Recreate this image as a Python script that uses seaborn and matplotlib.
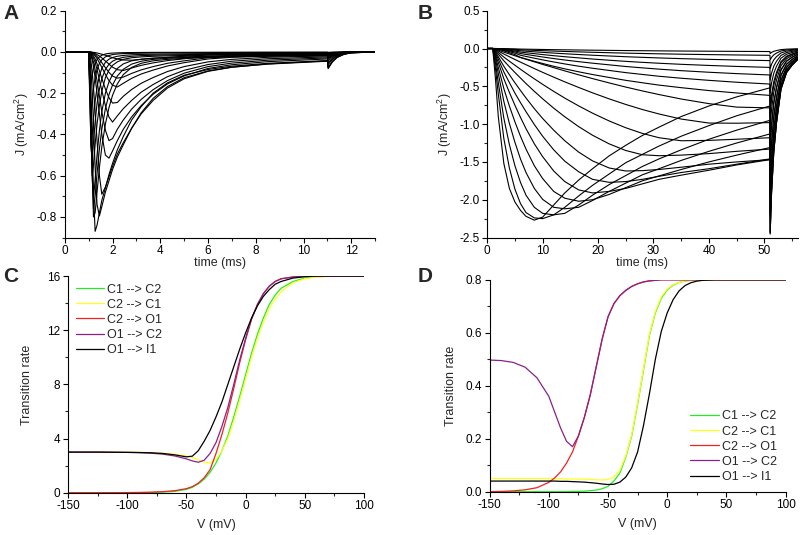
import numpy as np
import pandas as pd
import matplotlib.pyplot as plt
import seaborn as sns
from matplotlib.ticker import MultipleLocator

# ---- Panel A: current traces, short pulse (time in ms, J in mA/cm^2)
t_a = [0, 1.0, 1.05, 1.1, 1.15, 1.2, 1.27, 1.35, 1.45, 1.55, 1.7, 1.85, 2.0, 2.2, 2.45,
       2.8, 3.2, 3.7, 4.3, 5.0, 6.0, 7.0, 8.5, 11.0, 11.03, 11.2, 11.4, 11.7, 12.0, 13.0]
a1 = [0, 0, -0.06, -0.22, -0.45, -0.68, -0.87, -0.84, -0.78, -0.72, -0.66, -0.595, -0.54, -0.475, -0.41,
      -0.33, -0.265, -0.2, -0.15, -0.113, -0.085, -0.069, -0.055, -0.042, -0.076, -0.046, -0.025, -0.0105, -0.004, 0]
a2 = [0, 0, -0.024, -0.10, -0.20, -0.35, -0.56, -0.74, -0.795, -0.75, -0.68, -0.625, -0.57, -0.51, -0.45,
      -0.37, -0.295, -0.225, -0.168, -0.125, -0.092, -0.074, -0.059, -0.045, -0.081, -0.05, -0.027, -0.011, -0.0045, 0]
a3 = [0, 0, -0.01, -0.05, -0.10, -0.17, -0.29, -0.43, -0.60, -0.69, -0.655, -0.605, -0.555, -0.495, -0.44,
      -0.37, -0.30, -0.235, -0.175, -0.13, -0.094, -0.074, -0.058, -0.043, -0.077, -0.047, -0.026, -0.0108, -0.0043, 0]
a4 = [0, 0, -0.005, -0.02, -0.04, -0.07, -0.125, -0.20, -0.30, -0.40, -0.50, -0.515, -0.48, -0.43, -0.375,
      -0.315, -0.26, -0.205, -0.155, -0.116, -0.08, -0.062, -0.047, -0.034, -0.061, -0.037, -0.02, -0.0085, -0.0034, 0]
a4b = [0, 0, -0.004, -0.015, -0.028, -0.048, -0.085, -0.14, -0.215, -0.29, -0.38, -0.43, -0.42, -0.375, -0.33,
       -0.277, -0.23, -0.183, -0.139, -0.103, -0.071, -0.054, -0.04, -0.029, -0.052, -0.032, -0.017, -0.007, -0.003, 0]
a5 = [0, 0, -0.003, -0.01, -0.017, -0.029, -0.05, -0.085, -0.136, -0.187, -0.26, -0.316, -0.34, -0.31, -0.275,
      -0.235, -0.195, -0.158, -0.12, -0.089, -0.061, -0.045, -0.033, -0.024, -0.043, -0.026, -0.014, -0.006, -0.0024, 0]
a5b = [0, 0, -0.002, -0.006, -0.012, -0.019, -0.034, -0.057, -0.092, -0.128, -0.18, -0.222, -0.248, -0.245, -0.215,
       -0.182, -0.152, -0.124, -0.095, -0.071, -0.048, -0.036, -0.026, -0.019, -0.034, -0.021, -0.011, -0.005, -0.002, 0]
a6 = [0, 0, -0.001, -0.003, -0.007, -0.01, -0.019, -0.032, -0.053, -0.075, -0.109, -0.139, -0.161, -0.17, -0.152,
      -0.128, -0.107, -0.088, -0.068, -0.052, -0.034, -0.026, -0.019, -0.013, -0.023, -0.014, -0.008, -0.003, -0.001, 0]
a6b = [0, 0, 0, -0.002, -0.005, -0.007, -0.013, -0.022, -0.036, -0.052, -0.076, -0.099, -0.117, -0.127, -0.122,
       -0.104, -0.087, -0.071, -0.055, -0.043, -0.028, -0.021, -0.015, -0.010, -0.018, -0.011, -0.006, -0.0025, -0.001, 0]
a7 = [0, 0, 0, -0.001, -0.003, -0.0045, -0.008, -0.013, -0.02, -0.029, -0.044, -0.059, -0.074, -0.086, -0.09,
      -0.078, -0.065, -0.053, -0.042, -0.033, -0.022, -0.016, -0.011, -0.0074, -0.013, -0.008, -0.0045, -0.002, -0.001, 0]
a8 = [0, 0, 0, 0, -0.001, -0.002, -0.003, -0.005, -0.008, -0.011, -0.016, -0.022, -0.028, -0.034, -0.039,
      -0.04, -0.036, -0.031, -0.026, -0.021, -0.015, -0.011, -0.008, -0.005, -0.009, -0.0055, -0.003, -0.001, 0, 0]
a9 = [0, 0, -0.10, -0.30, -0.55, -0.80, -0.78, -0.68, -0.56, -0.46, -0.35, -0.27, -0.21, -0.155, -0.11,
      -0.075, -0.055, -0.043, -0.036, -0.031, -0.027, -0.024, -0.021, -0.018, -0.032, -0.02, -0.011, -0.0045, -0.002, 0]
a9b = [0, 0, -0.12, -0.33, -0.59, -0.76, -0.70, -0.59, -0.47, -0.375, -0.275, -0.207, -0.16, -0.117, -0.084,
       -0.059, -0.045, -0.036, -0.031, -0.027, -0.024, -0.021, -0.019, -0.016, -0.029, -0.018, -0.0095, -0.004, -0.0016, 0]
a10 = [0, 0, -0.14, -0.36, -0.62, -0.71, -0.62, -0.50, -0.38, -0.29, -0.20, -0.145, -0.11, -0.08, -0.058,
       -0.043, -0.035, -0.03, -0.027, -0.024, -0.021, -0.019, -0.017, -0.014, -0.025, -0.015, -0.0085, -0.0035, -0.0014, 0]
a11 = [0, 0, -0.18, -0.42, -0.60, -0.55, -0.45, -0.35, -0.26, -0.19, -0.125, -0.088, -0.065, -0.048, -0.036,
       -0.028, -0.024, -0.021, -0.019, -0.017, -0.015, -0.013, -0.012, -0.01, -0.018, -0.011, -0.006, -0.0025, -0.001, 0]
a11b = [0, 0, -0.22, -0.47, -0.52, -0.44, -0.34, -0.25, -0.18, -0.13, -0.085, -0.06, -0.045, -0.034, -0.026,
        -0.021, -0.018, -0.016, -0.0145, -0.013, -0.0115, -0.01, -0.009, -0.0075, -0.0135, -0.008, -0.0045, -0.002, -0.001, 0]
a12 = [0, 0, -0.25, -0.46, -0.40, -0.32, -0.24, -0.17, -0.115, -0.08, -0.05, -0.035, -0.027, -0.021, -0.017,
       -0.014, -0.012, -0.011, -0.01, -0.009, -0.008, -0.007, -0.006, -0.005, -0.009, -0.0055, -0.003, -0.001, 0, 0]
a13 = [0, 0, -0.18, -0.30, -0.24, -0.18, -0.125, -0.085, -0.055, -0.038, -0.024, -0.017, -0.013, -0.01, -0.008,
       -0.007, -0.006, -0.005, -0.0045, -0.004, -0.0035, -0.003, -0.0025, -0.002, -0.0036, -0.0022, -0.0012, -0.0005, 0, 0]
a13b = [0, 0, -0.11, -0.15, -0.11, -0.08, -0.055, -0.037, -0.024, -0.016, -0.01, -0.007, -0.0055, -0.0045, -0.0035,
        -0.003, -0.0025, -0.002, -0.002, -0.0018, -0.0015, -0.0013, -0.0011, -0.001, -0.0018, -0.0011, -0.0006, -0.0002, 0, 0]

# ---- Panel B: current traces, long pulse
t_b = [0, 1, 1.5, 2, 3, 4, 5, 6, 7, 8.5, 10, 12, 14, 16.5, 19, 22, 25, 28, 31, 35, 40, 45, 51,
       51.05, 51.3, 51.7, 52.2, 53, 54, 55, 56]
b1 = [0, 0, -0.41, -0.90, -1.52, -1.85, -2.03, -2.14, -2.22, -2.27, -2.23, -2.07, -1.91, -1.74, -1.59, -1.42,
      -1.28, -1.15, -1.04, -0.90, -0.76, -0.64, -0.52, -0.868, -0.677, -0.486, -0.347, -0.191, -0.113, -0.078, -0.052]
b2 = [0, 0, -0.27, -0.60, -1.19, -1.58, -1.86, -2.05, -2.17, -2.24, -2.25, -2.20, -2.10, -1.95, -1.81, -1.66,
      -1.51, -1.40, -1.29, -1.16, -1.02, -0.89, -0.76, -1.27, -0.99, -0.711, -0.508, -0.279, -0.165, -0.114, -0.076]
b3 = [0, 0, -0.195, -0.45, -0.92, -1.27, -1.55, -1.77, -1.94, -2.10, -2.18, -2.20, -2.18, -2.07, -1.94, -1.80,
      -1.68, -1.56, -1.46, -1.34, -1.20, -1.08, -0.95, -1.586, -1.237, -0.888, -0.634, -0.349, -0.206, -0.143, -0.095]
b4 = [0, 0, -0.14, -0.33, -0.70, -0.99, -1.24, -1.46, -1.64, -1.85, -1.995, -2.10, -2.12, -2.10, -2.01, -1.89,
      -1.78, -1.67, -1.59, -1.48, -1.36, -1.25, -1.13, -1.887, -1.472, -1.057, -0.755, -0.415, -0.245, -0.17, -0.113]
b5 = [0, 0, -0.106, -0.25, -0.53, -0.76, -0.97, -1.16, -1.33, -1.55, -1.72, -1.89, -1.98, -2.02, -2.0, -1.93,
      -1.84, -1.75, -1.685, -1.60, -1.50, -1.41, -1.31, -2.188, -1.706, -1.225, -0.875, -0.481, -0.284, -0.197, -0.131]
b6 = [0, 0, -0.08, -0.185, -0.40, -0.58, -0.75, -0.91, -1.06, -1.26, -1.43, -1.62, -1.76, -1.87, -1.91, -1.89,
      -1.85, -1.79, -1.73, -1.675, -1.61, -1.54, -1.47, -2.455, -1.915, -1.375, -0.982, -0.54, -0.319, -0.221, -0.147]
b7 = [0, 0, -0.06, -0.14, -0.31, -0.45, -0.59, -0.715, -0.835, -1.005, -1.16, -1.34, -1.49, -1.63, -1.73, -1.77,
      -1.76, -1.73, -1.69, -1.64, -1.59, -1.53, -1.46, -2.44, -1.90, -1.37, -0.976, -0.537, -0.317, -0.22, -0.146]
b8 = [0, 0, -0.045, -0.108, -0.235, -0.346, -0.453, -0.555, -0.654, -0.795, -0.925, -1.08, -1.22, -1.37, -1.486, -1.58,
      -1.62, -1.615, -1.60, -1.57, -1.53, -1.50, -1.47, -2.43, -1.895, -1.36, -0.972, -0.535, -0.316, -0.219, -0.146]
b9 = [0, 0, -0.031, -0.074, -0.162, -0.241, -0.317, -0.39, -0.463, -0.566, -0.665, -0.789, -0.903, -1.033, -1.147, -1.261,
      -1.349, -1.405, -1.418, -1.41, -1.39, -1.36, -1.33, -2.22, -1.73, -1.245, -0.89, -0.49, -0.29, -0.20, -0.133]
b10 = [0, 0, -0.021, -0.051, -0.113, -0.168, -0.221, -0.274, -0.326, -0.401, -0.474, -0.567, -0.656, -0.759, -0.855, -0.958,
       -1.048, -1.123, -1.18, -1.22, -1.215, -1.20, -1.18, -1.97, -1.537, -1.104, -0.789, -0.434, -0.256, -0.177, -0.118]
b11 = [0, 0, -0.014, -0.033, -0.073, -0.109, -0.145, -0.18, -0.214, -0.265, -0.315, -0.379, -0.441, -0.515, -0.586, -0.666,
       -0.74, -0.807, -0.866, -0.933, -0.986, -0.988, -0.98, -1.637, -1.277, -0.917, -0.655, -0.36, -0.213, -0.147, -0.098]
b12 = [0, 0, -0.009, -0.022, -0.048, -0.072, -0.0955, -0.119, -0.142, -0.176, -0.21, -0.253, -0.296, -0.348, -0.398, -0.455,
       -0.51, -0.561, -0.609, -0.668, -0.729, -0.775, -0.785, -1.31, -1.023, -0.734, -0.524, -0.288, -0.17, -0.118, -0.079]
b13 = [0, 0, -0.003, -0.009, -0.031, -0.056, -0.081, -0.118, -0.138, -0.169, -0.198, -0.235, -0.269, -0.308, -0.344, -0.383,
       -0.421, -0.453, -0.484, -0.518, -0.556, -0.588, -0.62, -1.035, -0.807, -0.58, -0.414, -0.228, -0.135, -0.093, -0.062]
b14 = [0, 0, -0.002, -0.007, -0.0235, -0.042, -0.061, -0.089, -0.105, -0.128, -0.15, -0.178, -0.204, -0.234, -0.261, -0.29,
       -0.319, -0.343, -0.367, -0.393, -0.421, -0.446, -0.47, -0.785, -0.612, -0.44, -0.314, -0.173, -0.102, -0.071, -0.047]
b15 = [0, 0, -0.002, -0.005, -0.0175, -0.0315, -0.0455, -0.0665, -0.078, -0.095, -0.112, -0.133, -0.152, -0.174, -0.194, -0.216,
       -0.238, -0.256, -0.273, -0.293, -0.314, -0.332, -0.35, -0.585, -0.456, -0.327, -0.234, -0.129, -0.076, -0.053, -0.035]
b16 = [0, 0, -0.001, -0.004, -0.0125, -0.0225, -0.0325, -0.0475, -0.056, -0.068, -0.08, -0.095, -0.1085, -0.124, -0.139, -0.155,
       -0.17, -0.183, -0.195, -0.209, -0.224, -0.237, -0.25, -0.418, -0.326, -0.234, -0.167, -0.092, -0.054, -0.038, -0.025]
b17 = [0, 0, -0.001, -0.0024, -0.008, -0.0144, -0.0208, -0.0304, -0.0357, -0.0435, -0.051, -0.0606, -0.0694, -0.0795, -0.0888, -0.0989,
       -0.1086, -0.1168, -0.1248, -0.1338, -0.1434, -0.1517, -0.16, -0.267, -0.208, -0.15, -0.107, -0.059, -0.035, -0.024, -0.016]
b18 = [0, 0, 0, -0.0014, -0.0045, -0.0081, -0.0117, -0.0171, -0.02, -0.0245, -0.0287, -0.0341, -0.0391, -0.0447, -0.05, -0.0556,
       -0.0611, -0.0657, -0.0702, -0.0752, -0.0806, -0.0853, -0.09, -0.15, -0.117, -0.084, -0.06, -0.033, -0.02, -0.0135, -0.009]
b19 = [0, 0, 0, -0.0006, -0.002, -0.0036, -0.0052, -0.0076, -0.0089, -0.0109, -0.0128, -0.0152, -0.0174, -0.0199, -0.0222, -0.0247,
       -0.0272, -0.0292, -0.0312, -0.0334, -0.0358, -0.0379, -0.04, -0.067, -0.052, -0.037, -0.027, -0.015, -0.0087, -0.006, -0.004]

# ---- Panel C: transition rates vs voltage
v_c = [-150, -125, -100, -90, -80, -70, -60, -50, -45, -40, -35, -30, -25, -20, -15, -10, -5, 0,
       5, 10, 15, 20, 25, 30, 40, 50, 60, 75, 100]
c_c1c2 = [0, 0, 0, 0.01, 0.02, 0.05, 0.1, 0.25, 0.4, 0.65, 1.0, 1.5, 2.2, 3.1, 4.2, 5.6, 7.1, 8.7,
          10.3, 11.7, 12.9, 13.9, 14.6, 15.1, 15.6, 15.85, 15.95, 16.0, 16.0]
c_c2c1 = [3.0, 3.0, 2.99, 2.98, 2.96, 2.92, 2.85, 2.72, 2.6, 2.42, 2.25, 2.2, 2.45, 3.1, 4.0, 5.3, 6.8, 8.4,
          10.0, 11.4, 12.6, 13.6, 14.3, 14.85, 15.5, 15.8, 15.93, 16.0, 16.0]
c_c2o1 = [0, 0, 0.01, 0.02, 0.04, 0.08, 0.15, 0.3, 0.45, 0.7, 1.1, 1.7, 2.9, 4.3, 5.9, 7.7, 9.6, 11.3,
          12.8, 13.9, 14.7, 15.25, 15.6, 15.8, 15.93, 16.0, 16.0, 16.0, 16.0]
c_o1c2 = [3.0, 3.0, 2.98, 2.96, 2.92, 2.85, 2.72, 2.5, 2.35, 2.25, 2.4, 2.9, 3.7, 4.9, 6.3, 8.0, 9.8, 11.4,
          12.85, 13.9, 14.7, 15.25, 15.6, 15.8, 15.93, 16.0, 16.0, 16.0, 16.0]
c_o1i1 = [3.0, 3.0, 2.98, 2.97, 2.95, 2.9, 2.8, 2.65, 2.7, 3.1, 3.8, 4.6, 5.6, 6.7, 8.0, 9.3, 10.6, 11.8,
          12.9, 13.8, 14.5, 15.0, 15.4, 15.6, 15.85, 15.95, 16.0, 16.0, 16.0]

# ---- Panel D: transition rates vs voltage (second parameter set)
v_d = [-150, -140, -130, -120, -110, -100, -95, -90, -85, -80, -75, -70, -65, -60, -55, -50, -45, -40, -35,
       -30, -25, -20, -15, -10, -5, 0, 5, 10, 15, 20, 25, 30, 40, 50, 60, 75, 100]
d_c1c2 = [0, 0, 0, 0, 0, 0, 0, 0, 0, 0.001, 0.001, 0.002, 0.004, 0.006, 0.011, 0.02, 0.04, 0.07, 0.13,
          0.21, 0.33, 0.46, 0.59, 0.675, 0.73, 0.762, 0.78, 0.79, 0.795, 0.798, 0.8, 0.8, 0.8, 0.8, 0.8, 0.8, 0.8]
d_c2c1 = [0.05, 0.05, 0.05, 0.05, 0.05, 0.05, 0.049, 0.049, 0.048, 0.048, 0.047, 0.047, 0.046, 0.045, 0.044, 0.046, 0.056, 0.08, 0.135,
          0.215, 0.335, 0.465, 0.595, 0.68, 0.735, 0.765, 0.782, 0.79, 0.796, 0.798, 0.8, 0.8, 0.8, 0.8, 0.8, 0.8, 0.8]
d_c2o1 = [0, 0.001, 0.003, 0.007, 0.015, 0.035, 0.052, 0.075, 0.108, 0.15, 0.21, 0.28, 0.365, 0.47, 0.575, 0.66, 0.71, 0.74, 0.76,
          0.775, 0.785, 0.792, 0.796, 0.798, 0.8, 0.8, 0.8, 0.8, 0.8, 0.8, 0.8, 0.8, 0.8, 0.8, 0.8, 0.8, 0.8]
d_o1c2 = [0.497, 0.495, 0.488, 0.47, 0.43, 0.36, 0.30, 0.24, 0.19, 0.17, 0.21, 0.28, 0.365, 0.47, 0.575, 0.66, 0.71, 0.74, 0.76,
          0.775, 0.785, 0.792, 0.796, 0.798, 0.8, 0.8, 0.8, 0.8, 0.8, 0.8, 0.8, 0.8, 0.8, 0.8, 0.8, 0.8, 0.8]
d_o1i1 = [0.04, 0.04, 0.04, 0.04, 0.04, 0.04, 0.04, 0.039, 0.039, 0.038, 0.037, 0.036, 0.034, 0.032, 0.029, 0.027, 0.028, 0.036, 0.055,
          0.09, 0.15, 0.25, 0.37, 0.50, 0.605, 0.675, 0.725, 0.758, 0.778, 0.789, 0.795, 0.798, 0.8, 0.8, 0.8, 0.8, 0.8]

rate_labels = ['C1 --> C2', 'C2 --> C1', 'C2 --> O1', 'O1 --> C2', 'O1 --> I1']
rate_colors = ['#22ee22', '#ffff22', '#ee2222', '#882288', '#000000']

sns.set_style("ticks")
plt.rcParams['font.family'] = ['Liberation Sans', 'DejaVu Sans']
plt.rcParams['mathtext.default'] = 'regular'
plt.rcParams['axes.unicode_minus'] = False
plt.rcParams['xtick.direction'] = 'out'
plt.rcParams['ytick.direction'] = 'out'


def traces_frame(t, traces):
    return pd.DataFrame({
        't': np.tile(t, len(traces)),
        'J': np.concatenate(traces),
        'trace': np.repeat(np.arange(len(traces)), len(t)),
    })


def rates_frame(v, curves):
    return pd.DataFrame({
        'V': np.tile(v, len(curves)),
        'rate': np.concatenate(curves),
        'transition': np.repeat(rate_labels, len(v)),
    })


def style_axis(ax, xmaj, xmin, ymaj, ymin):
    sns.despine(ax=ax)
    ax.xaxis.set_major_locator(MultipleLocator(xmaj))
    ax.xaxis.set_minor_locator(MultipleLocator(xmin))
    ax.yaxis.set_major_locator(MultipleLocator(ymaj))
    ax.yaxis.set_minor_locator(MultipleLocator(ymin))
    ax.tick_params(which='major', length=3.5, width=0.8, labelsize=8.5, pad=2, colors='black')
    ax.tick_params(which='minor', length=2, width=0.8)
    for s in ax.spines.values():
        s.set_linewidth(0.8)
        s.set_color('black')


fig = plt.figure(figsize=(8, 5.35), dpi=100)
ax_a = fig.add_axes([0.081, 0.556, 0.388, 0.424])
ax_b = fig.add_axes([0.609, 0.556, 0.388, 0.424])
ax_c = fig.add_axes([0.085, 0.079, 0.370, 0.405])
ax_d = fig.add_axes([0.612, 0.081, 0.370, 0.396])

# A
traces_a = [a1, a2, a3, a4, a4b, a5, a5b, a6, a6b, a7, a8, a9, a9b, a10, a11, a11b, a12, a13, a13b]
df_a = traces_frame(t_a, traces_a)
sns.lineplot(data=df_a, x='t', y='J', units='trace', estimator=None, color='black',
             lw=0.8, ax=ax_a, legend=False)
ax_a.set_xlim(0, 13)
ax_a.set_ylim(-0.9, 0.2)
style_axis(ax_a, 2, 1, 0.2, 0.1)
ax_a.yaxis.set_major_formatter(plt.FormatStrFormatter('%.1f'))
ax_a.set_xlabel('time (ms)', fontsize=9, labelpad=0)
ax_a.set_ylabel('J (mA/cm$^2$)', fontsize=9, labelpad=4)

# B
traces_b = [b1, b2, b3, b4, b5, b6, b7, b8, b9, b10, b11, b12, b13, b14, b15, b16, b17, b18, b19]
df_b = traces_frame(t_b, traces_b)
sns.lineplot(data=df_b, x='t', y='J', units='trace', estimator=None, color='black',
             lw=0.8, ax=ax_b, legend=False)
ax_b.set_xlim(0, 56)
ax_b.set_ylim(-2.5, 0.5)
style_axis(ax_b, 10, 5, 0.5, 0.25)
ax_b.yaxis.set_major_formatter(plt.FormatStrFormatter('%.1f'))
ax_b.set_xlabel('time (ms)', fontsize=9, labelpad=0)
ax_b.set_ylabel('J (mA/cm$^2$)', fontsize=9, labelpad=4)

# C
df_c = rates_frame(v_c, [c_c1c2, c_c2c1, c_c2o1, c_o1c2, c_o1i1])
sns.lineplot(data=df_c, x='V', y='rate', hue='transition', palette=dict(zip(rate_labels, rate_colors)),
             estimator=None, lw=0.9, ax=ax_c)
ax_c.set_xlim(-150, 100)
ax_c.set_ylim(0, 16)
style_axis(ax_c, 50, 25, 4, 2)
ax_c.set_xlabel('V (mV)', fontsize=9, labelpad=5)
ax_c.set_ylabel('Transition rate', fontsize=9, labelpad=10)
ax_c.legend(loc='upper left', frameon=False, fontsize=9, handlelength=2.3, handletextpad=0.25,
            labelspacing=0.25, borderaxespad=0.2)

# D
df_d = rates_frame(v_d, [d_c1c2, d_c2c1, d_c2o1, d_o1c2, d_o1i1])
sns.lineplot(data=df_d, x='V', y='rate', hue='transition', palette=dict(zip(rate_labels, rate_colors)),
             estimator=None, lw=0.9, ax=ax_d)
ax_d.set_xlim(-150, 100)
ax_d.set_ylim(0, 0.8)
style_axis(ax_d, 50, 25, 0.2, 0.1)
ax_d.yaxis.set_major_formatter(plt.FormatStrFormatter('%.1f'))
ax_d.set_xlabel('V (mV)', fontsize=9, labelpad=5)
ax_d.set_ylabel('Transition rate', fontsize=9, labelpad=6)
ax_d.legend(loc='lower right', frameon=False, fontsize=9, handlelength=2.3, handletextpad=0.25,
            labelspacing=0.25, borderaxespad=0.3)

for letter, x, y in [('A', 0.004, 0.993), ('B', 0.522, 0.993), ('C', 0.004, 0.501), ('D', 0.522, 0.501)]:
    fig.text(x, y, letter, fontsize=15, fontweight='bold', va='top', ha='left')

fig.savefig('out.png', dpi=100)
